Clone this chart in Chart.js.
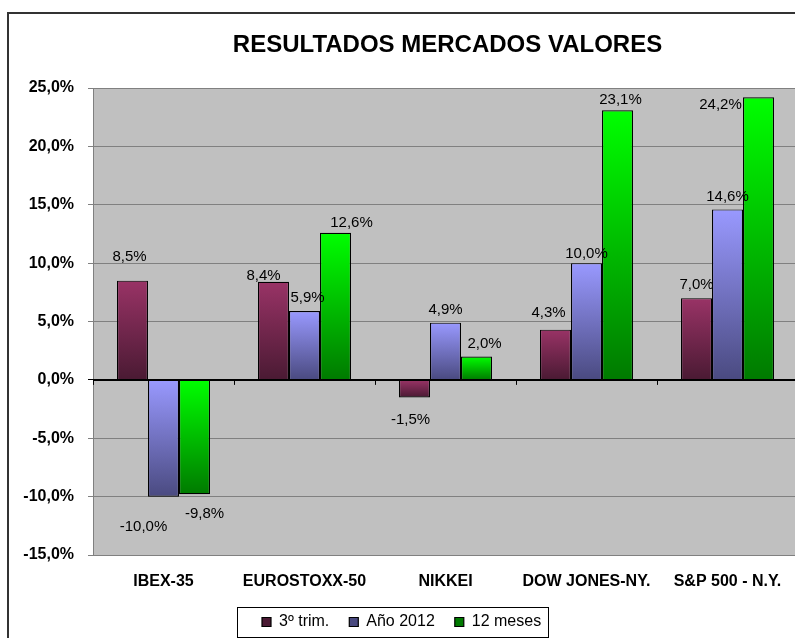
<!DOCTYPE html>
<html>
<head>
<meta charset="utf-8">
<script src="https://cdn.jsdelivr.net/npm/chart.js@4.4.0/dist/chart.umd.min.js"></script>
<style>
  html, body { margin: 0; padding: 0; background: #fff; overflow: hidden; }
  #frame { position: absolute; left: 7px; top: 12px; width: 820px; height: 640px; border-left: 2px solid #333; border-top: 2px solid #333; overflow: hidden; }
  #chart { position: absolute; left: 0; top: 0; }
</style>
</head>
<body>
<div id="frame"><canvas id="chart" width="800" height="624"></canvas></div>
<script>
const categories = ['IBEX-35', 'EUROSTOXX-50', 'NIKKEI', 'DOW JONES-NY.', 'S&P 500 - N.Y.'];
const seriesNames = ['3º trim.', 'Año 2012', '12 meses'];
const trim3 = [8.5, 8.4, -1.5, 4.3, 7.0];
const ano2012 = [-10.0, 5.9, 4.9, 10.0, 14.6];
const meses12 = [-9.8, 12.6, 2.0, 23.1, 24.2];
const yMin = -15;
const yMax = 25;
const yStep = 5;

const FONT = 'Liberation Sans, Arial, sans-serif';

// small hand nudges for the value labels, like the Excel original
const labelNudge = {
  '0-0': [-3, -11], '0-1': [-10, 7], '0-2': [-4, 0], '0-3': [-7, -4],
  '1-0': [-20, 8], '1-1': [3, 0], '1-3': [0, 4],
  '2-0': [10, -2], '2-1': [16, 3], '2-2': [8, 0], '2-3': [3, 3], '2-4': [-38, 21]
};

function pct(v) {
  return v.toFixed(1).replace('.', ',') + '%';
}

function barGradient(light, dark) {
  return function(c) {
    const chart = c.chart;
    if (!chart.chartArea || c.type !== 'data') return light;
    const y = chart.scales.y;
    const v = c.raw;
    const top = y.getPixelForValue(Math.max(v, 0));
    const bottom = y.getPixelForValue(Math.min(v, 0));
    if (bottom - top < 1) return light;
    const g = chart.ctx.createLinearGradient(0, top, 0, bottom);
    g.addColorStop(0, light);
    g.addColorStop(1, dark);
    return g;
  };
}

const decor = {
  id: 'decor',
  afterLayout(chart) {
    const lg = chart.legend;
    if (!lg) return;
    const pad = lg.options.labels.padding;
    const firstBox = 253;
    lg.left = 0;
    lg.right = 2 * firstBox - pad + lg.lineWidths[0];
    lg.width = lg.right - lg.left;
    lg.top = 608 - pad - 8;
    lg.bottom = lg.top + lg.height;
  },
  beforeDraw(chart) {
    const a = chart.chartArea;
    const ctx = chart.ctx;
    ctx.save();
    ctx.fillStyle = '#c0c0c0';
    ctx.fillRect(a.left, a.top, a.right - a.left, a.bottom - a.top);
    ctx.restore();
  },
  afterDatasetsDraw(chart) {
    const a = chart.chartArea;
    const ctx = chart.ctx;
    const y0 = chart.scales.y.getPixelForValue(0);
    ctx.save();
    ctx.strokeStyle = '#000';
    ctx.lineWidth = 2;
    ctx.beginPath();
    ctx.moveTo(a.left, y0);
    ctx.lineTo(a.right, y0);
    ctx.stroke();
    ctx.lineWidth = 1;
    const n = categories.length;
    const w = (a.right - a.left) / n;
    for (let i = 0; i <= n; i++) {
      const x = Math.round(a.left + i * w) + 0.5;
      ctx.beginPath();
      ctx.moveTo(x, y0);
      ctx.lineTo(x, y0 + 5);
      ctx.stroke();
    }

    ctx.fillStyle = '#000';
    ctx.font = '15px ' + FONT;
    ctx.textAlign = 'center';
    ctx.textBaseline = 'middle';
    chart.data.datasets.forEach(function(ds, di) {
      const meta = chart.getDatasetMeta(di);
      meta.data.forEach(function(bar, i) {
        const v = ds.data[i];
        const nudge = labelNudge[di + '-' + i] || [0, 0];
        const ty = v >= 0 ? bar.y - 13 : bar.y + 22;
        ctx.fillText(pct(v), bar.x + nudge[0], ty + nudge[1]);
      });
    });
    ctx.restore();
  },
  afterDraw(chart) {
    const a = chart.chartArea;
    const ctx = chart.ctx;
    ctx.save();
    ctx.fillStyle = '#000';
    ctx.font = 'bold 24px ' + FONT;
    ctx.textAlign = 'center';
    ctx.textBaseline = 'middle';
    ctx.fillText('RESULTADOS MERCADOS VALORES', (a.left + a.right) / 2 + 2, 31);

    const hb = chart.legend.legendHitBoxes;
    if (hb && hb.length) {
      const last = hb[hb.length - 1];
      const x1 = hb[0].left - 25;
      const x2 = last.left + last.width + 7;
      ctx.strokeStyle = '#000';
      ctx.lineWidth = 1;
      ctx.strokeRect(Math.round(x1) + 0.5, 593.5, Math.round(x2 - x1), 30);
    }
    ctx.restore();
  }
};

new Chart(document.getElementById('chart'), {
  type: 'bar',
  data: {
    labels: categories,
    datasets: [
      { label: seriesNames[0], data: trim3, backgroundColor: barGradient('#993366', '#4a1a33') },
      { label: seriesNames[1], data: ano2012, backgroundColor: barGradient('#9999ff', '#4a4a80') },
      { label: seriesNames[2], data: meses12, backgroundColor: barGradient('#00ff00', '#007a00') }
    ]
  },
  options: {
    responsive: false,
    animation: false,
    layout: { padding: { top: 74, left: 0, right: 11, bottom: 0 } },
    datasets: {
      bar: { borderColor: '#000', borderWidth: 1.2, categoryPercentage: 0.66, barPercentage: 1.0 }
    },
    plugins: {
      title: { display: false },
      tooltip: { enabled: false },
      legend: {
        position: 'bottom',
        labels: {
          color: '#000',
          font: { family: FONT, size: 16 },
          boxWidth: 9,
          boxHeight: 9,
          padding: 20
        }
      }
    },
    scales: {
      x: {
        grid: { display: false, drawTicks: false },
        border: { display: false },
        ticks: { color: '#000', font: { family: FONT, size: 16, weight: 'bold' }, padding: 17 },
        afterFit: function(s) { s.height = 83 - (s.chart.legend ? s.chart.legend.height : 0); }
      },
      y: {
        min: yMin,
        max: yMax,
        ticks: {
          stepSize: yStep,
          color: '#000',
          font: { family: FONT, size: 16, weight: 'bold' },
          padding: 14,
          callback: function(v) { return pct(v); }
        },
        grid: {
          color: function(c) { return c.tick && c.tick.value === 0 ? '#000' : '#808080'; },
          tickLength: 5
        },
        border: { color: '#808080', width: 1 },
        afterFit: function(s) { s.width = 84; }
      }
    }
  },
  plugins: [decor]
});
</script>
</body>
</html>
